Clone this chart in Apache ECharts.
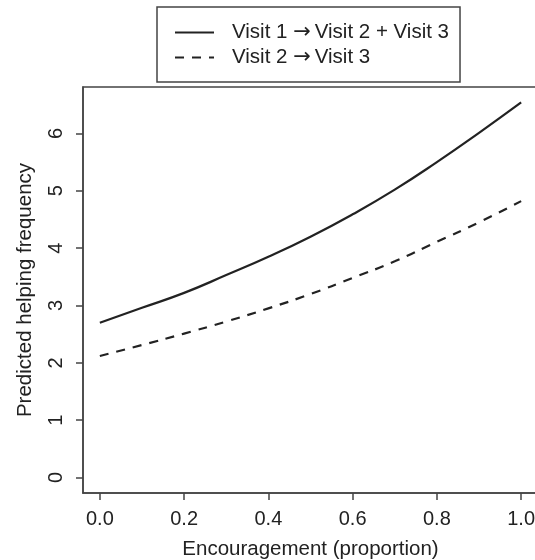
<!DOCTYPE html>
<html>
<head>
<meta charset="utf-8">
<script src="https://cdn.jsdelivr.net/npm/echarts@6/dist/echarts.min.js"></script>
<style>
  html, body { margin: 0; padding: 0; background: #fff; }
  #chart { width: 535px; height: 560px; }
</style>
</head>
<body>
<div id="chart"></div>
<script>
// Data
const encouragement = [0.0, 0.1, 0.2, 0.3, 0.4, 0.5, 0.6, 0.7, 0.8, 0.9, 1.0];
const visit1to23 = [2.70, 2.96, 3.22, 3.53, 3.85, 4.20, 4.59, 5.02, 5.50, 6.01, 6.54];
const visit2to3 = [2.12, 2.31, 2.51, 2.72, 2.95, 3.20, 3.48, 3.77, 4.11, 4.45, 4.82];
const seriesNames = ['Visit 1 \u2192 Visit 2 + Visit 3', 'Visit 2 \u2192 Visit 3'];
const xTicks = [0.0, 0.2, 0.4, 0.6, 0.8, 1.0];
const yTicks = [0, 1, 2, 3, 4, 5, 6];

const FONT = 'Liberation Sans, Arial, Helvetica, sans-serif';
const INK = '#222';
const AXIS = '#444';

const chart = echarts.init(document.getElementById('chart'), null, { renderer: 'canvas' });
chart.setOption({
  animation: false,
  backgroundColor: '#fff',
  textStyle: { fontFamily: FONT },
  legend: {
    orient: 'vertical',
    left: 157,
    top: 7,
    padding: [15, 11, 14, 17],
    itemWidth: 39,
    itemHeight: 20,
    itemGap: 4,
    borderColor: AXIS,
    borderWidth: 1.5,
    itemStyle: { opacity: 0 },
    formatter: function (name) {
      const parts = name.split('\u2192');
      return '{t|' + parts[0] + '}{a|\u2192}{t|' + parts[1].trim() + '}';
    },
    textStyle: {
      fontSize: 20.5, lineHeight: 20, color: INK, fontFamily: FONT, padding: [0, 0, 0, 13],
      rich: {
        t: { fontSize: 20.5, lineHeight: 20, color: INK, fontFamily: FONT },
        a: { fontSize: 21, lineHeight: 20, color: INK, fontFamily: 'DejaVu Sans', padding: [0, 4, 0, 0] }
      }
    },
    data: seriesNames
  },
  grid: {
    show: true,
    left: 83,
    top: 87,
    width: 455,
    height: 406,
    outerBoundsMode: 'none',
    containLabel: false,
    borderColor: AXIS,
    borderWidth: 1.5,
    backgroundColor: 'transparent'
  },
  xAxis: {
    type: 'value',
    min: -0.04,
    max: 1.04,
    name: 'Encouragement (proportion)',
    nameLocation: 'middle',
    nameGap: 46,
    nameTextStyle: { fontSize: 20.5, color: INK, fontFamily: FONT },
    axisLine: { show: true, onZero: false, lineStyle: { color: AXIS, width: 1.5 } },
    axisTick: { show: true, inside: false, length: 7, customValues: xTicks, lineStyle: { color: AXIS, width: 1.5 } },
    axisLabel: {
      customValues: xTicks,
      margin: 16,
      fontSize: 20,
      color: INK,
      fontFamily: FONT,
      formatter: v => v.toFixed(1)
    },
    splitLine: { show: false }
  },
  yAxis: {
    type: 'value',
    min: -0.27,
    max: 6.81,
    name: 'Predicted helping frequency',
    nameLocation: 'middle',
    nameGap: 47,
    nameTextStyle: { fontSize: 20.5, color: INK, fontFamily: FONT },
    axisLine: { show: true, onZero: false, lineStyle: { color: AXIS, width: 1.5 } },
    axisTick: { show: true, inside: false, length: 7, customValues: yTicks, lineStyle: { color: AXIS, width: 1.5 } },
    axisLabel: {
      customValues: yTicks,
      rotate: 90,
      margin: 17,
      fontSize: 20,
      color: INK,
      fontFamily: FONT,
      formatter: v => String(Math.round(v))
    },
    splitLine: { show: false }
  },
  series: [
    {
      name: seriesNames[0],
      type: 'line',
      smooth: true,
      symbol: 'none',
      data: encouragement.map((x, i) => [x, visit1to23[i]]),
      lineStyle: { color: INK, width: 2.2, type: 'solid' },
      itemStyle: { color: INK }
    },
    {
      name: seriesNames[1],
      type: 'line',
      smooth: true,
      symbol: 'none',
      data: encouragement.map((x, i) => [x, visit2to3[i]]),
      lineStyle: { color: INK, width: 2.2, type: [9, 8] },
      itemStyle: { color: INK }
    }
  ]
});
</script>
</body>
</html>
